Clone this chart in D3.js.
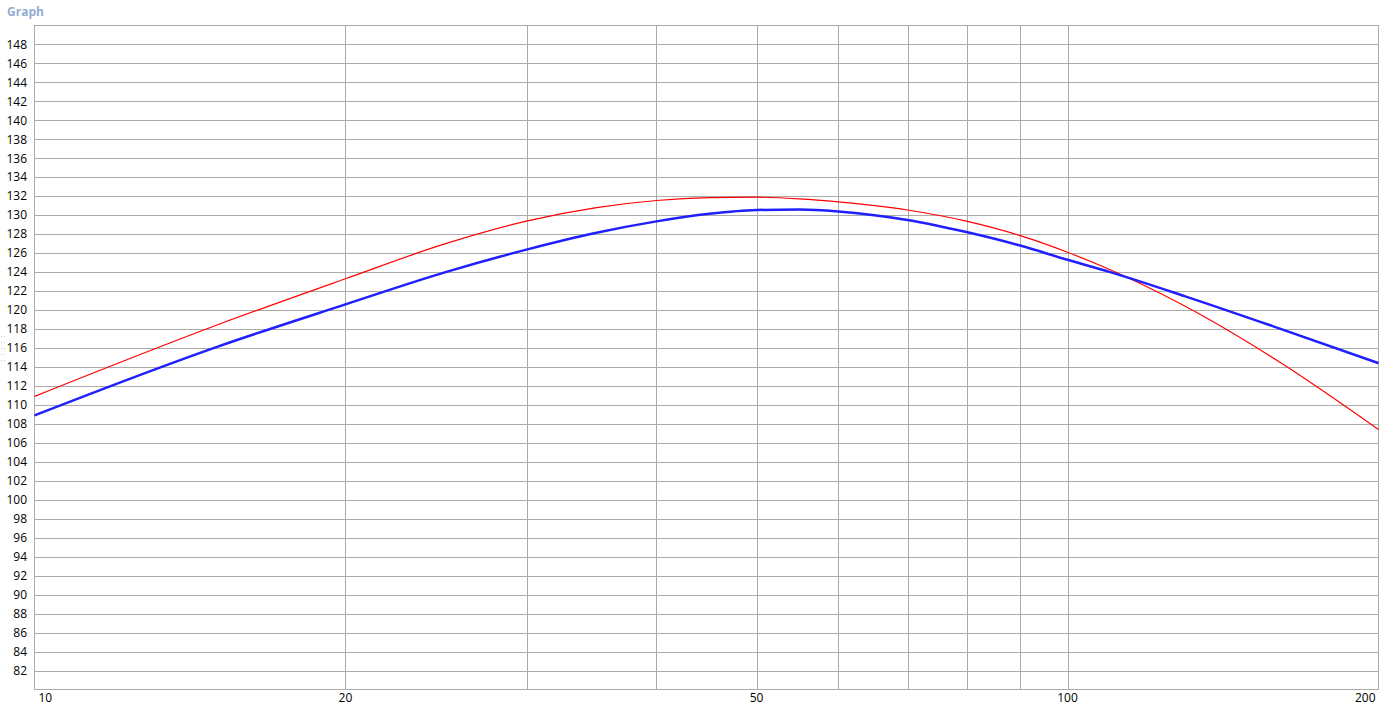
<!DOCTYPE html>
<html>
<head>
<meta charset="utf-8">
<script src="https://cdn.jsdelivr.net/npm/d3@7"></script>
<style>
	body { margin: 0; background: #fff; }
	svg { display: block; font-family: "Open Sans", "Noto Sans", sans-serif; }
	.grid line { stroke: #ababab; stroke-width: 1; shape-rendering: crispEdges; }
	.tick-label { font-size: 12px; fill: #000; }
</style>
</head>
<body>
<svg id="chart" width="1381" height="710"></svg>
<script>
var frequencies = [10, 15, 20, 25, 30, 35, 40, 45, 50, 55, 60, 70, 80, 90, 100, 110, 130, 160, 200];
var redValues = [110.9, 118.4, 123.3, 127.0, 129.4, 130.8, 131.55, 131.85, 131.9, 131.72, 131.4, 130.55, 129.35, 127.85, 126.1, 124.25, 120.4, 114.6, 107.4];
var blueValues = [108.9, 116.1, 120.6, 124.0, 126.4, 128.15, 129.35, 130.15, 130.55, 130.6, 130.4, 129.5, 128.2, 126.8, 125.3, 124.0, 121.45, 118.1, 114.4];

var xGridValues = [20, 30, 40, 50, 60, 70, 80, 90, 100];
var xLabels = [10, 20, 50, 100, 200];
var yLabels = d3.range(82, 150, 2);

var svg = d3.select("#chart");
// note: "top" is taken by window.top, so use plot* names
var plotLeft = 34.5, plotRight = 1378.5, plotTop = 25.5, plotBottom = 689.5;

var x = d3.scaleLog().domain([10, 200]).range([plotLeft, plotRight]);
var y = d3.scaleLinear().domain([80, 150]).range([plotBottom, plotTop]);

// title
svg.append("text")
	.attr("x", 7)
	.attr("y", 16)
	.attr("font-size", 12)
	.attr("font-weight", "bold")
	.attr("fill", "#93acd2")
	.text("Graph");

// small splitter grip at the left edge
svg.append("g").selectAll("rect")
	.data(d3.range(0, 10))
	.enter().append("rect")
	.attr("x", function(d) { return d % 2 ? 4 : 1; })
	.attr("y", function(d) { return 336 + Math.floor(d / 2) * 6; })
	.attr("width", 1)
	.attr("height", 1)
	.attr("fill", "#c8c8c8");

var grid = svg.append("g").attr("class", "grid");

grid.selectAll("line.h")
	.data(yLabels)
	.enter().append("line")
	.attr("class", "h")
	.attr("x1", plotLeft).attr("x2", plotRight)
	.attr("y1", function(d) { return Math.round(y(d)) + 0.5; })
	.attr("y2", function(d) { return Math.round(y(d)) + 0.5; });

grid.selectAll("line.v")
	.data(xGridValues)
	.enter().append("line")
	.attr("class", "v")
	.attr("y1", plotTop).attr("y2", plotBottom)
	.attr("x1", function(d) { return Math.round(x(d)) + 0.5; })
	.attr("x2", function(d) { return Math.round(x(d)) + 0.5; });

// frame
svg.append("rect")
	.attr("x", plotLeft).attr("y", plotTop)
	.attr("width", plotRight - plotLeft).attr("height", plotBottom - plotTop)
	.attr("fill", "none")
	.attr("stroke", "#ababab")
	.attr("shape-rendering", "crispEdges");

// y labels
svg.append("g").selectAll("text")
	.data(yLabels)
	.enter().append("text")
	.attr("class", "tick-label")
	.attr("x", 27)
	.attr("y", function(d) { return y(d); })
	.attr("dy", "0.35em")
	.attr("text-anchor", "end")
	.text(function(d) { return d; });

// x labels, centred but kept inside the frame
svg.append("g").selectAll("text")
	.data(xLabels)
	.enter().append("text")
	.attr("class", "tick-label")
	.attr("x", function(d) {
		if (d == 10) return x(d) + 4;
		if (d == 200) return x(d) - 3;
		return x(d);
	})
	.attr("y", 702)
	.attr("text-anchor", function(d) {
		if (d == 10) return "start";
		if (d == 200) return "end";
		return "middle";
	})
	.text(function(d) { return d; });

// smooth curve through the read values
var line = function(values) {
	return d3.line()
		.x(function(d, i) { return x(frequencies[i]); })
		.y(function(d) { return y(d); })
		.curve(d3.curveMonotoneX)(values);
};

svg.append("path")
	.attr("d", line(redValues))
	.attr("fill", "none")
	.attr("stroke", "#ff0000")
	.attr("stroke-width", 1.2);

svg.append("path")
	.attr("d", line(blueValues))
	.attr("fill", "none")
	.attr("stroke", "#1f1fff")
	.attr("stroke-width", 2.5);
</script>
</body>
</html>
